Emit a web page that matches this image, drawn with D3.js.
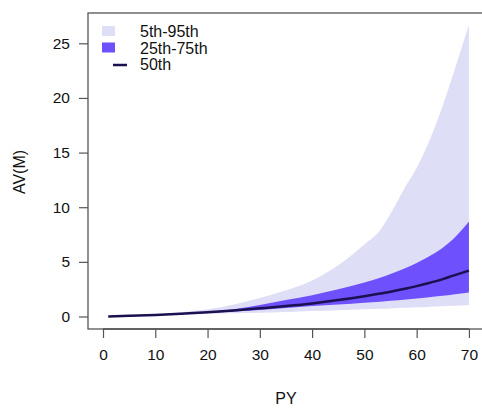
<!DOCTYPE html>
<html>
<head>
<meta charset="utf-8">
<script src="https://cdn.jsdelivr.net/npm/d3@7"></script>
<style>
  body { margin: 0; background: #fff; }
  text { font-family: "Liberation Sans", Arial, sans-serif; fill: #111; }
</style>
</head>
<body>
<div id="chart"></div>
<script>
// percentile bands
const py   = [1, 5, 10, 15, 20, 25, 30, 35, 40, 45, 50, 53, 55, 58, 60, 62, 65, 67, 70];
const p05  = [0, 0.05, 0.1, 0.17, 0.25, 0.3, 0.35, 0.42, 0.5, 0.58, 0.66, 0.7, 0.74, 0.8, 0.84, 0.88, 0.93, 0.98, 1.05];
const p25  = [0, 0.05, 0.12, 0.22, 0.33, 0.46, 0.6, 0.78, 0.96, 1.1, 1.26, 1.36, 1.43, 1.55, 1.65, 1.75, 1.9, 2.02, 2.2];
const p50  = [0, 0.06, 0.14, 0.25, 0.38, 0.55, 0.75, 0.96, 1.2, 1.5, 1.86, 2.1, 2.27, 2.56, 2.78, 3.02, 3.42, 3.74, 4.2];
const p75  = [0, 0.06, 0.15, 0.27, 0.42, 0.66, 1.05, 1.5, 1.95, 2.5, 3.1, 3.55, 3.9, 4.45, 4.9, 5.4, 6.3, 7.1, 8.7];
const p95  = [0, 0.08, 0.2, 0.4, 0.66, 1.1, 1.7, 2.4, 3.3, 4.7, 6.6, 7.9, 9.4, 12.0, 13.6, 15.6, 19.3, 22.2, 26.7];

const xTicks = [0, 10, 20, 30, 40, 50, 60, 70];
const yTicks = [0, 5, 10, 15, 20, 25];

const width = 482, height = 408;
const box = {left: 88, right: 484, top: 13, bottom: 329};

const svg = d3.select('#chart').append('svg')
    .attr('width', width)
    .attr('height', height);

const x = d3.scaleLinear().domain([-2.87, 72.5]).range([box.left, box.right - 2]);
const y = d3.scaleLinear().domain([0, 25]).range([316.5, 43.3]);

const rows = py.map((d, i) => ({py: d, p05: p05[i], p25: p25[i], p50: p50[i], p75: p75[i], p95: p95[i]}));

const band = (lo, hi) => d3.area()
    .x(d => x(d.py))
    .y0(d => y(d[lo]))
    .y1(d => y(d[hi]))
    .curve(d3.curveMonotoneX);

svg.append('path').datum(rows)
    .attr('d', band('p05', 'p95'))
    .attr('fill', '#dedef7');

svg.append('path').datum(rows)
    .attr('d', band('p25', 'p75'))
    .attr('fill', '#6e50fc');

svg.append('path').datum(rows)
    .attr('d', d3.line().x(d => x(d.py)).y(d => y(d.p50)).curve(d3.curveMonotoneX))
    .attr('fill', 'none')
    .attr('stroke', '#1b1050')
    .attr('stroke-width', 2.5);

// plot box
svg.append('rect')
    .attr('x', box.left).attr('y', box.top)
    .attr('width', box.right - box.left).attr('height', box.bottom - box.top)
    .attr('fill', 'none')
    .attr('stroke', '#555')
    .attr('stroke-width', 1.3);

// axes
const xAxis = svg.append('g')
    .attr('transform', `translate(0,${box.bottom})`)
    .call(d3.axisBottom(x).tickValues(xTicks).tickSize(9).tickPadding(11));
const yAxis = svg.append('g')
    .attr('transform', `translate(${box.left},0)`)
    .call(d3.axisLeft(y).tickValues(yTicks).tickSize(9).tickPadding(9));

[xAxis, yAxis].forEach(g => {
  g.select('.domain').remove();
  g.selectAll('.tick line').attr('stroke', '#555').attr('stroke-width', 1.2);
  g.selectAll('.tick text').style('font-size', '15.5px')
    .style('font-family', '"Liberation Sans", Arial, sans-serif').attr('fill', '#111');
});
xAxis.append('line')
    .attr('x1', x(0)).attr('x2', x(70))
    .attr('stroke', '#555').attr('stroke-width', 1.3);

// titles
svg.append('text')
    .attr('x', x(35)).attr('y', 404)
    .attr('text-anchor', 'middle')
    .style('font-size', '16px')
    .text('PY');

svg.append('text')
    .attr('transform', 'translate(25,172) rotate(-90)')
    .attr('text-anchor', 'middle')
    .style('font-size', '16px')
    .text('AV(M)');

// legend
const legend = svg.append('g');
const items = [
  {label: '5th-95th', kind: 'box', color: '#dedef7'},
  {label: '25th-75th', kind: 'box', color: '#6e50fc'},
  {label: '50th', kind: 'line', color: '#1b1050'}
];
items.forEach((d, i) => {
  const cy = 31 + i * 16.5;
  if (d.kind === 'box') {
    legend.append('rect')
      .attr('x', 102).attr('y', cy - 5)
      .attr('width', 13).attr('height', 10)
      .attr('fill', d.color);
  } else {
    legend.append('line')
      .attr('x1', 113).attr('x2', 127)
      .attr('y1', cy + 1).attr('y2', cy + 1)
      .attr('stroke', d.color).attr('stroke-width', 2.5);
  }
  legend.append('text')
    .attr('x', 140).attr('y', cy + 6)
    .style('font-size', '16px')
    .text(d.label);
});
</script>
</body>
</html>
